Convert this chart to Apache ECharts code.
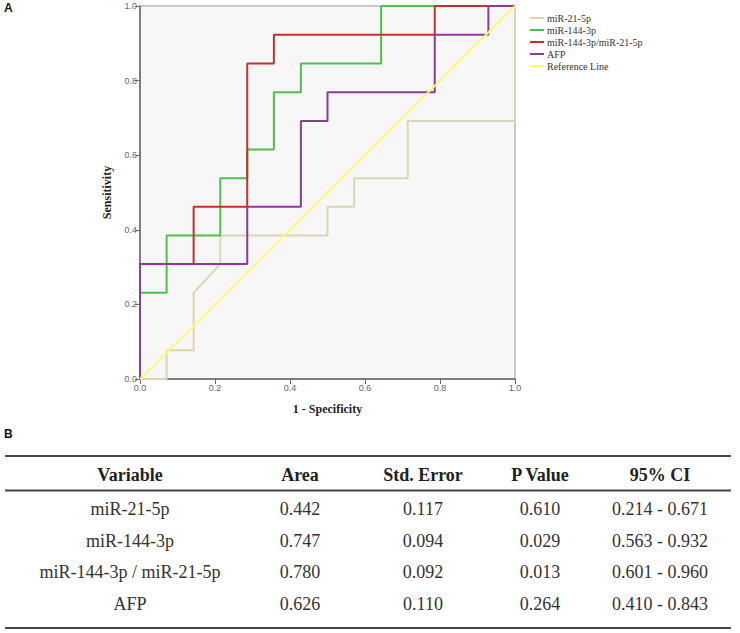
<!DOCTYPE html>
<html>
<head>
<meta charset="utf-8">
<script src="https://cdn.jsdelivr.net/npm/echarts@6/dist/echarts.min.js"></script>
<style>
html,body{margin:0;padding:0;background:#fff;}
#chart{width:740px;height:633px;}
</style>
</head>
<body>
<div id="chart"></div>
<script>
// ---- ROC data (1 - Specificity, Sensitivity) ----
var seriesNames = ['miR-21-5p', 'miR-144-3p', 'miR-144-3p/miR-21-5p', 'AFP', 'Reference Line'];
var roc_miR21 = [[0,0],[0.071,0],[0.071,0.077],[0.143,0.077],[0.143,0.231],[0.214,0.308],[0.214,0.385],[0.5,0.385],[0.5,0.462],[0.571,0.462],[0.571,0.538],[0.714,0.538],[0.714,0.692],[1,0.692],[1,1]];
var roc_miR144 = [[0,0],[0,0.231],[0.071,0.231],[0.071,0.385],[0.214,0.385],[0.214,0.538],[0.286,0.538],[0.286,0.615],[0.357,0.615],[0.357,0.769],[0.429,0.769],[0.429,0.846],[0.643,0.846],[0.643,1],[1,1]];
var roc_ratio = [[0,0],[0,0.308],[0.143,0.308],[0.143,0.462],[0.286,0.462],[0.286,0.846],[0.357,0.846],[0.357,0.923],[0.786,0.923],[0.786,1],[1,1]];
var roc_AFP = [[0,0],[0,0.308],[0.286,0.308],[0.286,0.462],[0.429,0.462],[0.429,0.692],[0.5,0.692],[0.5,0.769],[0.786,0.769],[0.786,0.923],[0.929,0.923],[0.929,1],[1,1]];
var roc_reference = [[0,0],[1,1]];

// ---- Table data ----
var tableHeaders = ['Variable', 'Area', 'Std. Error', 'P Value', '95% CI'];
var tableVariables = ['miR-21-5p', 'miR-144-3p', 'miR-144-3p / miR-21-5p', 'AFP'];
var tableArea = ['0.442', '0.747', '0.780', '0.626'];
var tableStdError = ['0.117', '0.094', '0.092', '0.110'];
var tablePValue = ['0.610', '0.029', '0.013', '0.264'];
var tableCI = ['0.214 - 0.671', '0.563 - 0.932', '0.601 - 0.960', '0.410 - 0.843'];

var colors = ['#dcd5b2', '#4fc04f', '#c4302c', '#8a3c97', '#fafa7a'];
var curves = [roc_miR21, roc_miR144, roc_ratio, roc_AFP, roc_reference];

var chart = echarts.init(document.getElementById('chart'), null, {renderer: 'svg'});

var series = curves.map(function (d, i) {
  return {
    name: seriesNames[i],
    type: 'line',
    data: d,
    showSymbol: false,
    symbol: 'none',
    silent: true,
    animation: false,
    lineStyle: {color: colors[i], width: 2},
    itemStyle: {color: colors[i]},
    z: 2 + i
  };
});

// table graphics
var colX = [130, 300, 423, 540, 660];
var rowY = [509, 540.5, 572, 603.5];
var cols = [tableVariables, tableArea, tableStdError, tablePValue, tableCI];
var graphics = [];
graphics.push({type: 'text', left: 4, top: 2, style: {text: 'A', font: 'bold 12px "Liberation Sans", Arial, sans-serif', fill: '#111'}});
graphics.push({type: 'text', left: 4, top: 428, style: {text: 'B', font: 'bold 12px "Liberation Sans", Arial, sans-serif', fill: '#111'}});
[456, 490.5, 628].forEach(function (y) {
  graphics.push({type: 'line', shape: {x1: 5, y1: y, x2: 731, y2: y}, style: {stroke: '#444', lineWidth: 2}});
});
tableHeaders.forEach(function (h, c) {
  graphics.push({type: 'text', x: colX[c], y: 475, style: {text: h, font: 'bold 18px "Liberation Serif", "Times New Roman", serif', fill: '#222', textAlign: 'center', textVerticalAlign: 'middle'}});
});
cols.forEach(function (col, c) {
  col.forEach(function (v, r) {
    graphics.push({type: 'text', x: colX[c], y: rowY[r], style: {text: v, font: '18px "Liberation Serif", "Times New Roman", serif', fill: '#333', textAlign: 'center', textVerticalAlign: 'middle'}});
  });
});

var axisCommon = {
  type: 'value',
  min: 0,
  max: 1,
  interval: 0.2,
  axisLine: {show: true, lineStyle: {color: '#666', width: 1.5}},
  axisTick: {show: true, length: 5, lineStyle: {color: '#666'}},
  splitLine: {show: false},
  axisLabel: {
    fontSize: 9,
    color: '#666',
    fontFamily: '"Liberation Sans Narrow", "Liberation Sans", Arial, sans-serif',
    formatter: function (v) { return v.toFixed(1); }
  },
  nameTextStyle: {fontFamily: '"Liberation Serif", "Times New Roman", serif', fontWeight: 'bold', fontSize: 12, color: '#222'}
};

chart.setOption({
  animation: false,
  backgroundColor: '#ffffff',
  grid: {left: 140, top: 6, width: 375, height: 373, show: true, backgroundColor: '#f7f7f7', borderColor: '#999', borderWidth: 1},
  legend: {
    orient: 'vertical',
    left: 530,
    top: 13,
    padding: 0,
    icon: 'rect',
    itemWidth: 14,
    itemHeight: 2,
    itemGap: 2,
    data: seriesNames,
    textStyle: {fontFamily: '"Liberation Serif", "Times New Roman", serif', fontSize: 10, color: '#333', lineHeight: 10, padding: [0, 0, 0, -2]}
  },
  xAxis: Object.assign({}, axisCommon, {
    name: '1 - Specificity',
    nameLocation: 'middle',
    nameGap: 24,
    axisLabel: Object.assign({}, axisCommon.axisLabel, {margin: 4})
  }),
  yAxis: Object.assign({}, axisCommon, {
    name: 'Sensitivity',
    nameLocation: 'middle',
    nameGap: 27,
    axisLabel: Object.assign({}, axisCommon.axisLabel, {margin: 3})
  }),
  graphic: graphics,
  series: series
});
</script>
</body>
</html>
